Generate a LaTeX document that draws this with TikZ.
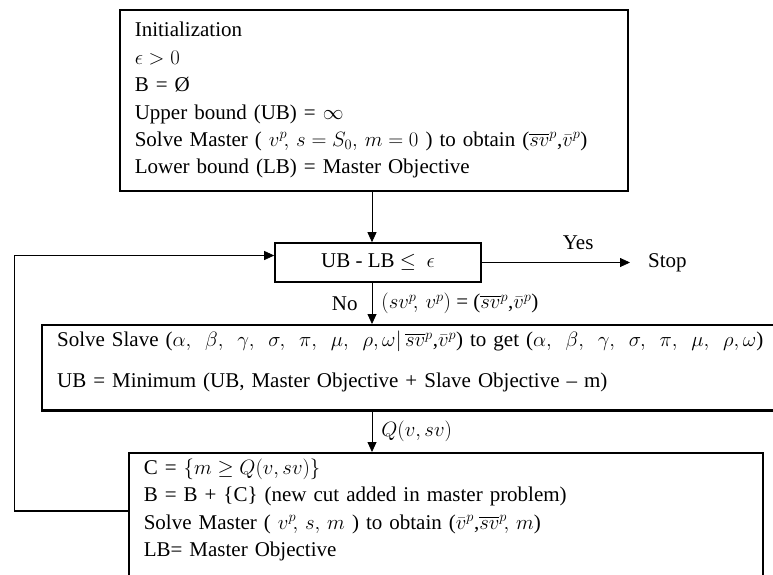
\documentclass[tikz,border=0pt]{standalone}
\usepackage{amsmath,amssymb}
\usepackage{fontspec}
\setmainfont{Liberation Serif}
\usetikzlibrary{arrows.meta,positioning,calc}

\begin{document}
\begin{tikzpicture}[x=1pt,y=-1pt,
    font=\fontsize{21}{27.4}\selectfont,
    box/.style={draw,line width=1.6pt,inner xsep=15pt,inner ysep=8pt,align=left,anchor=north west},
    flow/.style={-{Triangle[length=10pt,width=9pt]},line width=0.8pt},
    lbl/.style={inner sep=0pt}]
  \useasboundingbox (0,0) rectangle (773,574);
  \clip (0,0) rectangle (773,574);

  \node[box,text width=478pt,minimum height=181pt] (init) at (119,9) {Initialization\\
    $\epsilon > 0$\\
    B = \O\\
    Upper bound (UB) = $\infty$\\
    Solve Master ( $v^p\!, \, s = S_0, \, m = 0$ ) to obtain ($\overline{sv}^p$,$\bar{v}^p$)\\
    Lower bound (LB) = Master Objective};

  \node[box,anchor=center,align=center,minimum width=206pt,minimum height=39pt,inner sep=0pt] (check) at (378,262.5) {UB - LB $\leq$ \ $\epsilon$};
  \node[lbl,anchor=west] (stop) at (648,262.5) {Stop};
  \coordinate (spine) at (372,0);
  \coordinate (loop) at (14,0);

  \node[box,line width=2.2pt,text width=730pt,inner ysep=6pt] (slave) at (41,324) {Solve Slave ($\alpha,\,\ \beta,\,\ \gamma,\,\ \sigma,\,\ \pi,\,\ \mu,\,\ \rho,\omega|\,\overline{sv}^p$,$\bar{v}^p$) to get ($\alpha,\,\ \beta,\,\ \gamma,\,\ \sigma,\,\ \pi,\,\ \mu,\,\ \rho,\omega$)\\[13pt]
    UB = Minimum (UB, Master Objective + Slave Objective -- m)\\[-10pt]\mbox{}};

  \node[box,text width=604pt,inner ysep=6pt] (cut) at (128,452) {C = $\{m \geq Q(v,sv)\}$\\
    B = B + \{C\} (new cut added in master problem)\\
    Solve Master ( $v^p\!, \, s, \, m$ ) to obtain ($\bar{v}^p$,$\overline{sv}^p\!, \, m$)\\
    LB= Master Objective\\[40pt]\mbox{}};

  \draw[flow] (init.south -| spine) -- (check.north -| spine);
  \draw[flow,shorten >=18pt] (check.east) -- node[lbl,above=12pt,pos=0.58] (yes) {Yes} (stop.west);
  \draw[flow] (check.south -| spine) -- node[lbl,left=14pt] (no) {No} node[lbl,right=9pt] (pair) {$(sv^p\!, \, v^p)$ = ($\overline{sv}^p$,$\bar{v}^p$)} (slave.north -| spine);
  \draw[flow] (slave.south -| spine) -- node[lbl,right=9pt] (qval) {$Q(v,sv)$} (cut.north -| spine);
  % back to the check
  \draw[line width=1.6pt] ([yshift=-59pt]cut.north west) -- ([yshift=-59pt]cut.north west -| loop);
  \draw[flow] ([yshift=-59pt]cut.north west -| loop) -- ([yshift=7pt]check.west -| loop) -- ([yshift=7pt]check.west);
\end{tikzpicture}
\end{document}
